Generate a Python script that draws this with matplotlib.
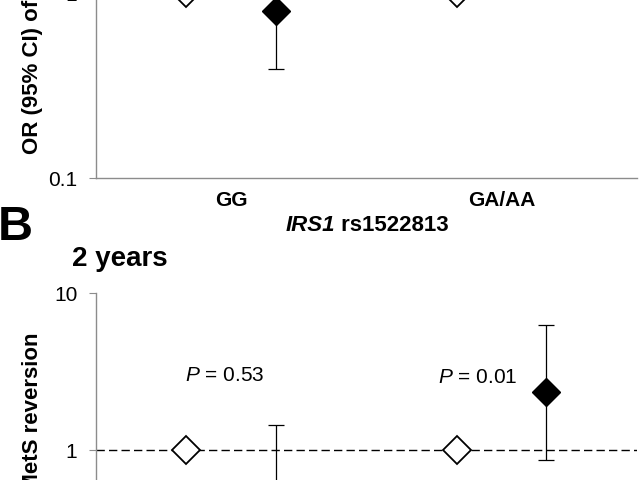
import numpy as np
import matplotlib
matplotlib.use("Agg")
import matplotlib.pyplot as plt

plt.rcParams['font.family'] = ['Liberation Sans', 'DejaVu Sans']
plt.rcParams['mathtext.fontset'] = 'custom'
plt.rcParams['mathtext.it'] = 'Liberation Sans:italic'
plt.rcParams['mathtext.rm'] = 'Liberation Sans'

# genotype groups
groups = ['GG', 'GA/AA']
xpos = np.array([1, 2])
off = 0.166

# panel A (only lower part shown)
a_ref = [1.0, 1.0]
a_or = [0.80, 2.0]
a_lo = [0.39, 1.15]
a_hi = [1.6, 3.5]

# panel B, 2 years
b_ref = [1.0, 1.0]
b_or = [0.5, 2.34]
b_lo = [0.13, 0.86]
b_hi = [1.44, 6.25]
b_p = ['0.53', '0.01']
b_p_x = [0.975, 1.912]
b_p_y = [2.98, 2.92]

grey = '#8c8c8c'

fig = plt.figure(figsize=(6.4, 4.8), dpi=100)
axA = fig.add_axes([0.15, 0.629, 0.845, 0.771])
axB = fig.add_axes([0.15, -0.2646, 0.845, 0.654])


def draw(ax, ref, orv, lo, hi):
    ax.set_yscale('log')
    ax.set_ylim(0.1, 10)
    ax.set_xlim(0.5, 2.5)
    ax.axhline(1, color='black', lw=1.0, ls=(0, (6, 3)), zorder=1)
    ax.plot(xpos - off, ref, ls='none', marker='D', ms=14, mfc='white',
            mec='black', mew=1.3, zorder=3)
    orv = np.array(orv)
    err = [orv - np.array(lo), np.array(hi) - orv]
    ax.errorbar(xpos + off, orv, yerr=err, fmt='D', ms=14, color='black',
                ecolor='black', elinewidth=0.9, capsize=6, capthick=0.9, zorder=3)
    for s in ['top', 'right']:
        ax.spines[s].set_visible(False)
    for s in ['left', 'bottom']:
        ax.spines[s].set_color(grey)
        ax.spines[s].set_linewidth(1.0)
    ax.set_yticks([0.1, 1, 10])
    ax.set_yticklabels(['0.1', '1', '10'])
    ax.minorticks_off()
    ax.tick_params(axis='y', length=5, color=grey, pad=8.5, labelsize=15)
    ax.set_xticks(xpos)


draw(axA, a_ref, a_or, a_lo, a_hi)
axA.set_xticklabels(groups, fontweight='bold')
axA.tick_params(axis='x', length=0, pad=9.5, labelsize=15)

draw(axB, b_ref, b_or, b_lo, b_hi)
axB.set_xticklabels([])
axB.tick_params(axis='x', length=0)
for x, y, p in zip(b_p_x, b_p_y, b_p):
    axB.text(x, y, r'$P$ = ' + p, ha='center', va='center', fontsize=15)

# x label of panel A: italic gene name + SNP id
axA.annotate('IRS1', xy=(0.442, 0), xycoords='axes fraction', xytext=(0, -47),
             textcoords='offset pixels', ha='right', va='center', fontsize=16,
             fontweight='bold', fontstyle='italic')
axA.annotate(' rs1522813', xy=(0.442, 0), xycoords='axes fraction', xytext=(0, -47),
             textcoords='offset pixels', ha='left', va='center', fontsize=16,
             fontweight='bold')

ylab = 'OR (95% CI) of MetS reversion'
fig.text(33 / 640, (480 - 154) / 480, ylab, rotation=90, ha='center', va='bottom',
         fontsize=16, fontweight='bold')
fig.text(33 / 640, (480 - 333) / 480, ylab, rotation=90, ha='center', va='top',
         fontsize=16, fontweight='bold')

fig.text(-0.003, (480 - 228) / 480, 'B', fontsize=35, fontweight='bold',
         ha='left', va='center')
fig.text(72 / 640, (480 - 266) / 480, '2 years', fontsize=20, fontweight='bold',
         ha='left', va='baseline')

fig.savefig('out.png', dpi=100)
